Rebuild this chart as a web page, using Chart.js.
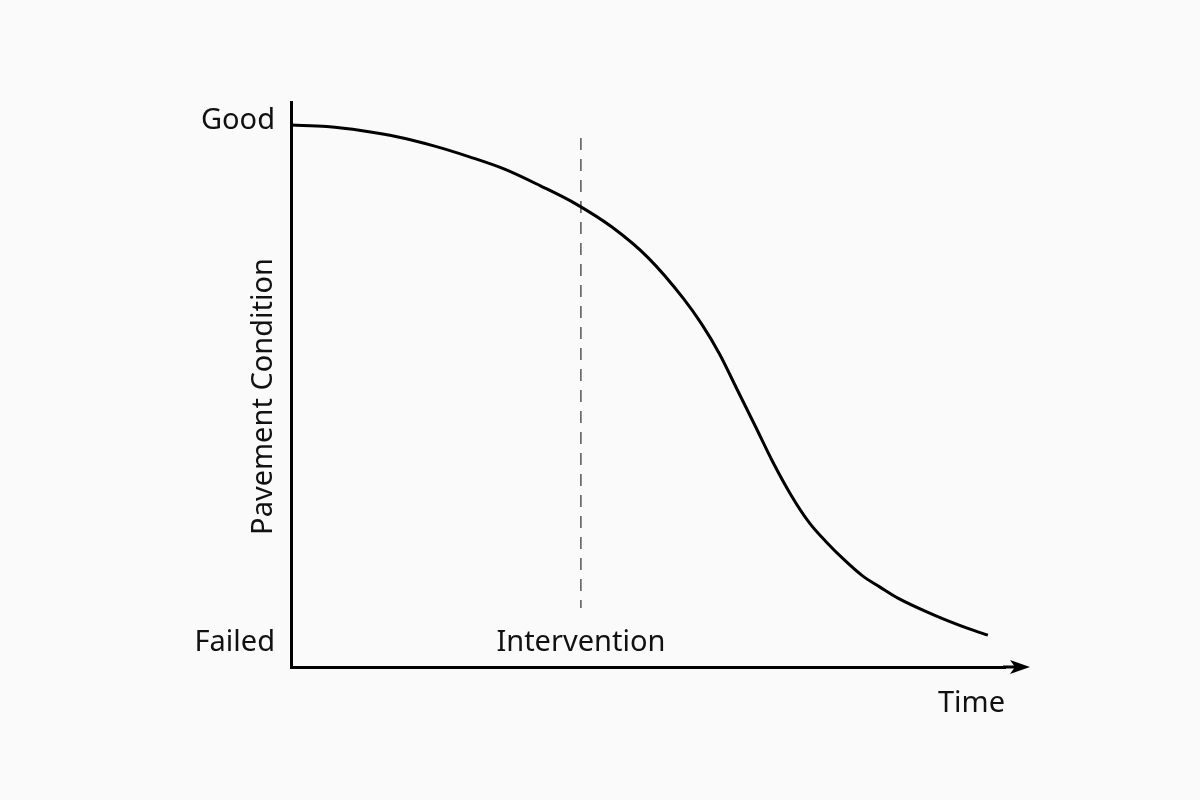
<!DOCTYPE html>
<html>
<head>
<meta charset="utf-8">
<script src="https://cdn.jsdelivr.net/npm/chart.js@4"></script>
<style>
  html, body { margin: 0; padding: 0; background: #fafafa; }
  #wrap { width: 1200px; height: 800px; }
</style>
</head>
<body>
<div id="wrap"><canvas id="myChart" width="1200" height="800"></canvas></div>
<script>
// condition curve (time 0-100, condition 0 = failed, 100 = good)
const timeValues = [0, 5, 10, 15, 20, 25, 30, 35, 40, 45, 50, 55, 57.5, 60, 62.5, 65, 67.5, 70, 72.5, 75, 77.5, 80, 82.5, 85, 90, 95, 97.6]
const conditionValues = [99.2, 98.9, 98.1, 96.9, 95.2, 93.1, 90.7, 87.5, 84.0, 79.6, 73.8, 65.9, 61.1, 55.4, 48.5, 41.6, 34.6, 28.4, 23.2, 19.3, 15.9, 12.9, 10.7, 8.6, 5.4, 2.7, 1.5]

// dashed intervention marker
const interventionTime = [40.6, 40.6]
const interventionRange = [96.7, 6.7]

const yTickValues = [0, 100]
const yTickLabels = ['Failed', 'Good']

const fontFamily = '"Noto Sans", "Open Sans", sans-serif'
const fontSize = 29
const textColor = '#111'

const curve = timeValues.map((t, i) => ({ x: t, y: conditionValues[i] }))
const marker = interventionTime.map((t, i) => ({ x: t, y: interventionRange[i] }))

// arrow on the time axis, y axis title and the intervention label
const extras = {
  id: 'extras',
  afterDraw(chart) {
    const { ctx, chartArea, scales } = chart
    const y0 = chartArea.bottom
    const tip = chartArea.right + 25
    ctx.save()
    ctx.strokeStyle = '#000'
    ctx.fillStyle = '#000'
    ctx.lineWidth = 3
    ctx.beginPath()
    ctx.moveTo(chartArea.right - 2, y0)
    ctx.lineTo(tip - 6, y0)
    ctx.stroke()
    ctx.beginPath()
    ctx.moveTo(tip, y0)
    ctx.lineTo(tip - 20, y0 - 7)
    ctx.lineTo(tip - 15, y0)
    ctx.lineTo(tip - 20, y0 + 7)
    ctx.closePath()
    ctx.fill()

    ctx.fillStyle = textColor
    ctx.font = fontSize + 'px ' + fontFamily
    ctx.textAlign = 'center'
    ctx.textBaseline = 'middle'
    ctx.fillText('Intervention', scales.x.getPixelForValue(interventionTime[0]), y0 - 24)

    ctx.translate(chartArea.left - 27, (chartArea.top + chartArea.bottom) / 2 + 12)
    ctx.rotate(-Math.PI / 2)
    ctx.fillText('Pavement Condition', 0, 0)
    ctx.restore()
  }
}

const config = {
  type: 'line',
  data: {
    datasets: [
      {
        label: 'Condition',
        data: curve,
        borderColor: '#000',
        borderWidth: 3,
        pointRadius: 0,
        cubicInterpolationMode: 'monotone',
        fill: false
      },
      {
        label: 'Intervention',
        data: marker,
        borderColor: '#555',
        borderWidth: 1.5,
        borderDash: [12, 9],
        pointRadius: 0,
        fill: false
      }
    ]
  },
  options: {
    responsive: false,
    animation: false,
    layout: { padding: { top: 102, right: 195, bottom: 0, left: 0 } },
    plugins: {
      legend: { display: false },
      tooltip: { enabled: false }
    },
    scales: {
      x: {
        type: 'linear',
        min: 0,
        max: 100,
        grid: { display: false },
        border: { display: true, color: '#000', width: 3 },
        ticks: { display: false },
        title: {
          display: true,
          text: 'Time',
          align: 'end',
          color: textColor,
          font: { family: fontFamily, size: fontSize },
          padding: { top: 0, bottom: 79 }
        },
        afterFit(scale) { scale.height = 133 }
      },
      y: {
        type: 'linear',
        min: -4.6,
        max: 103.6,
        grid: { display: false },
        border: { display: true, color: '#000', width: 3 },
        afterBuildTicks(scale) {
          scale.ticks = yTickValues.map(v => ({ value: v }))
        },
        ticks: {
          padding: 8,
          color: textColor,
          font: { family: fontFamily, size: fontSize },
          callback: (v) => yTickLabels[yTickValues.indexOf(v)]
        },
        afterFit(scale) { scale.width = 291 }
      }
    }
  },
  plugins: [extras]
}

new Chart(document.querySelector('#myChart'), config)
</script>
</body>
</html>
